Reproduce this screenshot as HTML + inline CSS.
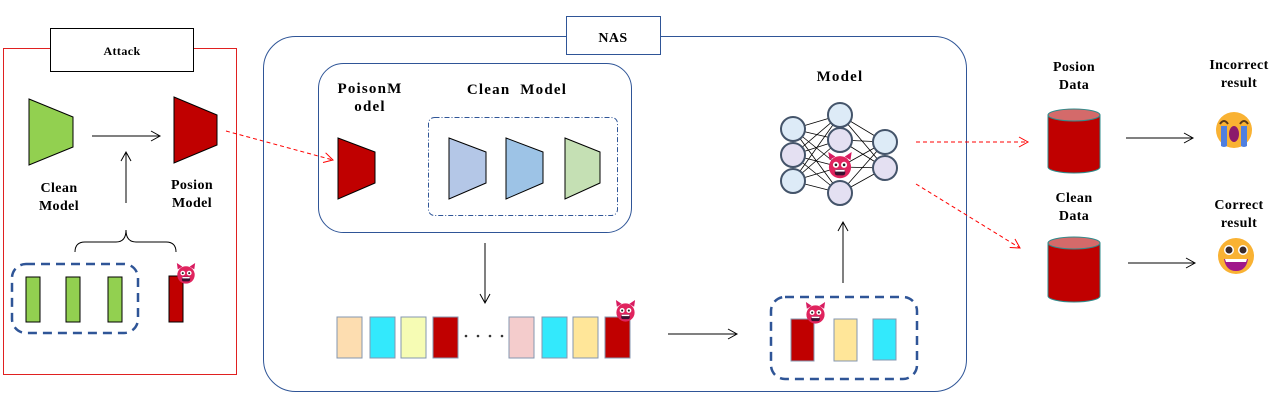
<!DOCTYPE html>
<html><head><meta charset="utf-8"><style>
html,body{margin:0;padding:0;background:#fff;}
svg{display:block;}
text{font-family:"Liberation Serif",serif;font-weight:bold;font-size:14px;letter-spacing:0.4px;fill:#000;}
.big{font-size:15px;letter-spacing:1.2px;}
</style></head><body>
<svg width="1280" height="416" viewBox="0 0 1280 416" xmlns="http://www.w3.org/2000/svg">
<defs>
<marker id="ah" markerWidth="12" markerHeight="12" refX="10" refY="6" orient="auto" markerUnits="userSpaceOnUse"><path d="M1,1 L10,6 L1,11" fill="none" stroke="#000" stroke-width="1"/></marker>
<marker id="ahr" markerWidth="12" markerHeight="12" refX="10" refY="6" orient="auto" markerUnits="userSpaceOnUse"><path d="M1,1 L10,6 L1,11" fill="none" stroke="#f00" stroke-width="1"/></marker>
<symbol id="devil" viewBox="-12 -12 24 24">
<path d="M-9,-5 L-10,-12 L-4,-8 Z M9,-5 L10,-12 L4,-8 Z" fill="#D81B60"/>
<circle cx="0" cy="1" r="9.5" fill="#E0245E"/>
<circle cx="-3.5" cy="-1" r="2.6" fill="#fff"/><circle cx="3.5" cy="-1" r="2.6" fill="#fff"/>
<circle cx="-3.5" cy="-1" r="1.1" fill="#222"/><circle cx="3.5" cy="-1" r="1.1" fill="#222"/>
<rect x="-4.5" y="3" width="9" height="5" rx="2" fill="#3a1030"/>
<rect x="-4" y="3.3" width="8" height="1.5" fill="#fff"/>
</symbol>
</defs>
<!-- Attack -->
<rect x="3.5" y="48.5" width="233" height="326" fill="none" stroke="#e02020" stroke-width="1"/>
<rect x="50.5" y="28.5" width="143" height="43" fill="#fff" stroke="#000"/>
<text x="122" y="55" text-anchor="middle" style="font-size:12px">Attack</text>
<polygon points="29,99 73,117 73,147 29,165" fill="#92D050" stroke="#000"/>
<line x1="92" y1="136" x2="160" y2="136" stroke="#000" marker-end="url(#ah)"/>
<polygon points="174,97 217,115 217,145 174,163" fill="#C00000" stroke="#000"/>
<text x="59" y="192" text-anchor="middle">Clean</text><text x="59" y="210" text-anchor="middle">Model</text>
<text x="192" y="189" text-anchor="middle">Posion</text><text x="192" y="207" text-anchor="middle">Model</text>
<line x1="126" y1="203" x2="126" y2="152" stroke="#000" marker-end="url(#ah)"/>
<path d="M75,252 Q75,242 85,242 L116,242 Q126,242 126,230 Q126,242 136,242 L166,242 Q176,242 176,252" fill="none" stroke="#000"/>
<rect x="12" y="264" width="126" height="69" rx="14" fill="none" stroke="#2F5597" stroke-width="2.5" stroke-dasharray="9,6"/>
<rect x="26" y="277" width="14" height="45" fill="#92D050" stroke="#000"/>
<rect x="66" y="277" width="14" height="45" fill="#92D050" stroke="#000"/>
<rect x="108" y="277" width="14" height="45" fill="#92D050" stroke="#000"/>
<rect x="169" y="276" width="14" height="46" fill="#C00000" stroke="#000"/>
<use href="#devil" x="175" y="263" width="22" height="22"/>
<line x1="226" y1="131" x2="333" y2="160" stroke="#f00" stroke-dasharray="4,3" marker-end="url(#ahr)"/>
<!-- NAS -->
<rect x="263.5" y="36.5" width="703" height="355" rx="32" fill="none" stroke="#2F5597"/>
<rect x="566.5" y="16.5" width="94" height="38" fill="#fff" stroke="#2F5597"/>
<text x="613" y="42" text-anchor="middle">NAS</text>
<rect x="318.5" y="63.5" width="313" height="169" rx="25" fill="none" stroke="#2F5597"/>
<text x="370" y="93" text-anchor="middle" class="big">PoisonM</text><text x="370" y="111" text-anchor="middle" class="big">odel</text>
<text x="517" y="94" text-anchor="middle" class="big" xml:space="preserve">Clean  Model</text>
<rect x="428.5" y="117.5" width="189" height="98" rx="6" fill="none" stroke="#2F5597" stroke-dasharray="5,2,1,2"/>
<polygon points="338,138 375,152 375,183 338,199" fill="#C00000" stroke="#000"/>
<polygon points="449,138 486,152 486,183 449,199" fill="#B4C7E7" stroke="#000"/>
<polygon points="506,138 543,152 543,183 506,199" fill="#9DC3E6" stroke="#000"/>
<polygon points="565,138 600,152 600,183 565,199" fill="#C5E0B4" stroke="#000"/>
<line x1="485" y1="243" x2="485" y2="303" stroke="#000" marker-end="url(#ah)"/>
<g stroke="#8497B0" stroke-width="1">
<rect x="337" y="317" width="25" height="41" fill="#FDDDB0"/>
<rect x="370" y="317" width="25" height="41" fill="#33E9FC"/>
<rect x="401" y="317" width="25" height="41" fill="#F6FCB4"/>
<rect x="433" y="317" width="25" height="41" fill="#C00000"/>
<rect x="509" y="317" width="25" height="41" fill="#F4CCCC"/>
<rect x="542" y="317" width="25" height="41" fill="#33E9FC"/>
<rect x="573" y="317" width="25" height="41" fill="#FFE699"/>
<rect x="605" y="317" width="25" height="41" fill="#C00000"/>
</g>
<g fill="#333"><circle cx="466" cy="336" r="1.3"/><circle cx="478" cy="336" r="1.3"/><circle cx="490" cy="336" r="1.3"/><circle cx="502" cy="336" r="1.3"/></g>
<use href="#devil" x="614" y="300" width="23" height="23"/>
<line x1="668" y1="334" x2="737" y2="334" stroke="#000" marker-end="url(#ah)"/>
<rect x="771" y="297" width="146" height="82" rx="14" fill="none" stroke="#2F5597" stroke-width="2.5" stroke-dasharray="9,6"/>
<rect x="791" y="319" width="23" height="42" fill="#C00000" stroke="#8497B0"/>
<rect x="834" y="319" width="23" height="42" fill="#FFE699" stroke="#8497B0"/>
<rect x="873" y="319" width="23" height="41" fill="#33E9FC" stroke="#8497B0"/>
<use href="#devil" x="804" y="302" width="23" height="23"/>
<line x1="843" y1="283" x2="843" y2="222" stroke="#000" marker-end="url(#ah)"/>
<text x="840" y="81" text-anchor="middle" class="big">Model</text>
<g stroke="#000" stroke-width="0.8">
<path d="M793,129L840,115M793,129L840,140M793,129L840,167M793,129L840,193M793,155L840,115M793,155L840,140M793,155L840,167M793,155L840,193M793,181L840,115M793,181L840,140M793,181L840,167M793,181L840,193M840,115L885,142M840,115L885,168M840,140L885,142M840,140L885,168M840,167L885,142M840,167L885,168M840,193L885,142M840,193L885,168"/>
</g>
<g stroke="#44546A" stroke-width="2">
<circle cx="793" cy="129" r="12" fill="#DDEBF7"/><circle cx="793" cy="155" r="12" fill="#E4E0F2"/><circle cx="793" cy="181" r="12" fill="#DDEBF7"/>
<circle cx="840" cy="115" r="12" fill="#DDEBF7"/><circle cx="840" cy="140" r="12" fill="#E4E0F2"/><circle cx="840" cy="193" r="12" fill="#E4E0F2"/>
<circle cx="885" cy="142" r="12" fill="#DDEBF7"/><circle cx="885" cy="168" r="12" fill="#E4E0F2"/>
</g>
<use href="#devil" x="826" y="152" width="28" height="28"/>
<line x1="916" y1="142" x2="1028" y2="142" stroke="#f00" stroke-dasharray="4,3" marker-end="url(#ahr)"/>
<line x1="916" y1="184" x2="1020" y2="248" stroke="#f00" stroke-dasharray="4,3" marker-end="url(#ahr)"/>
<!-- right -->
<text x="1074" y="71" text-anchor="middle">Posion</text><text x="1074" y="89" text-anchor="middle">Data</text>
<path d="M1048,115 L1048,167 A26,6 0 0 0 1100,167 L1100,115" fill="#C00000" stroke="#2E8B8B"/>
<ellipse cx="1074" cy="115" rx="26" ry="6" fill="#D46A6A" stroke="#2E8B8B"/>
<text x="1074" y="202" text-anchor="middle">Clean</text><text x="1074" y="220" text-anchor="middle">Data</text>
<path d="M1048,243 L1048,296 A26,6 0 0 0 1100,296 L1100,243" fill="#C00000" stroke="#2E8B8B"/>
<ellipse cx="1074" cy="243" rx="26" ry="6" fill="#D46A6A" stroke="#2E8B8B"/>
<line x1="1126" y1="138" x2="1193" y2="138" stroke="#000" marker-end="url(#ah)"/>
<line x1="1128" y1="263" x2="1195" y2="263" stroke="#000" marker-end="url(#ah)"/>
<text x="1239" y="69" text-anchor="middle">Incorrect</text><text x="1239" y="87" text-anchor="middle">result</text>
<text x="1239" y="209" text-anchor="middle">Correct</text><text x="1239" y="227" text-anchor="middle">result</text>
<!-- crying face -->
<circle cx="1234" cy="130" r="18" fill="#F9B233"/>
<path d="M1221,126 L1221,146 Q1224,148 1227,146 L1227,126 Z M1241,126 L1241,146 Q1244,148 1247,146 L1247,126 Z" fill="#4F7FE0"/>
<path d="M1220,124 Q1224,118 1228,124 M1240,124 Q1244,118 1248,124" stroke="#5a3a1a" stroke-width="2" fill="none"/>
<ellipse cx="1234" cy="134" rx="5" ry="8" fill="#8B1A6B"/>
<!-- happy face -->
<circle cx="1236" cy="256" r="18" fill="#F9B233"/>
<circle cx="1229" cy="250" r="5" fill="#fff"/><circle cx="1243" cy="250" r="5" fill="#fff"/>
<circle cx="1229" cy="250" r="3.5" fill="#3a2a2a"/><circle cx="1243" cy="250" r="3.5" fill="#3a2a2a"/>
<path d="M1224,259 L1248,259 Q1246,271 1236,271 Q1226,271 1224,259 Z" fill="#A0168A"/>
<path d="M1225,259 L1247,259 L1246,262 L1226,262 Z" fill="#fff"/>
</svg>
</body></html>
